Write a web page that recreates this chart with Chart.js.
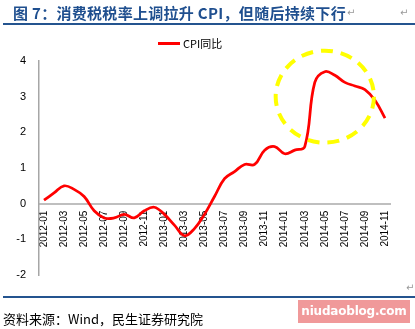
<!DOCTYPE html>
<html>
<head>
<meta charset="utf-8">
<script src="https://cdn.jsdelivr.net/npm/chart.js@4"></script>
<style>
  html, body { margin: 0; padding: 0; background: #fff; }
  #wrap { position: relative; width: 415px; height: 329px; overflow: hidden; font-family: "Noto Sans CJK SC", sans-serif; }
  #chart { position: absolute; left: 0; top: 0; }
  .title { position: absolute; left: 13px; top: 2px; font-size: 15px; font-weight: bold; color: #1f4f8f; white-space: nowrap; letter-spacing: 0.3px; }
  .mark { position: absolute; font-family: "DejaVu Sans"; font-size: 10px; color: #999; }
  .rule { position: absolute; left: 3px; width: 412px; height: 2px; background: #24548f; }
  .legend { position: absolute; left: 158px; top: 35px; font-family: "Liberation Sans", sans-serif; font-size: 11px; white-space: nowrap; }
  .legend span.swatch { display: inline-block; width: 22px; height: 3px; vertical-align: middle; margin-right: 3px; }
  .legend span.txt { vertical-align: middle; font-family: "Noto Sans CJK SC"; }
  .source { position: absolute; left: 3px; top: 309px; font-size: 13px; color: #000; white-space: nowrap; }
  .wm { position: absolute; left: 298px; top: 300px; width: 112px; height: 23px; background: #f0999a; color: #fff; font-family: "DejaVu Sans", sans-serif; font-weight: bold; font-size: 12px; letter-spacing: -0.2px; line-height: 23px; text-align: center; white-space: nowrap; overflow: hidden; }
</style>
</head>
<body>
<div id="wrap">
  <canvas id="chart" width="415" height="329"></canvas>
  <div class="title">图 7：消费税税率上调拉升 CPI，但随后持续下行</div>
  <div class="mark" style="left:347px; top:7px;">↵</div>
  <div class="mark" style="left:400px; top:7px;">↵</div>
  <div class="rule" style="top:23px;"></div>
  <div class="legend" id="legend"></div>
  <div class="mark" style="left:406px; top:282px;">↵</div>
  <div class="rule" style="top:296px;"></div>
  <div class="source">资料来源：Wind，民生证券研究院</div>
  <div class="wm">niudaoblog.com</div>
</div>
<script>
// months 2012-01 .. 2014-11
const months = [
  '2012-01','2012-02','2012-03','2012-04','2012-05','2012-06','2012-07','2012-08','2012-09','2012-10','2012-11','2012-12',
  '2013-01','2013-02','2013-03','2013-04','2013-05','2013-06','2013-07','2013-08','2013-09','2013-10','2013-11','2013-12',
  '2014-01','2014-02','2014-03','2014-04','2014-05','2014-06','2014-07','2014-08','2014-09','2014-10','2014-11'
];
const cpiYoY = [
  0.1, 0.3, 0.5, 0.4, 0.2, -0.2, -0.4, -0.4, -0.3, -0.4, -0.2, -0.1,
  -0.3, -0.6, -0.9, -0.7, -0.3, 0.2, 0.7, 0.9, 1.1, 1.1, 1.5, 1.6,
  1.4, 1.5, 1.6, 3.4, 3.7, 3.6, 3.4, 3.3, 3.2, 2.9, 2.4
];
const yTicks = [-2, -1, 0, 1, 2, 3, 4];
const seriesName = 'CPI同比';

// highlight ring around the post-hike peak (in data units)
const ringCenter = { x: '2014-05', y: 3.0 };
const ringRadius = { x: 4.9, y: 1.29 };

const ringPlugin = {
    id: 'ring',
    afterDatasetsDraw(chart) {
        const xs = chart.scales.x;
        const ys = chart.scales.y;
        const cx = xs.getPixelForValue(months.indexOf(ringCenter.x));
        const cy = ys.getPixelForValue(ringCenter.y);
        const step = xs.getPixelForValue(1) - xs.getPixelForValue(0);
        const rx = ringRadius.x * step;
        const ry = Math.abs(ys.getPixelForValue(0) - ys.getPixelForValue(ringRadius.y));
        const ctx = chart.ctx;
        ctx.save();
        ctx.strokeStyle = '#ffff00';
        ctx.lineWidth = 4;
        ctx.setLineDash([12, 8]);
        ctx.beginPath();
        ctx.ellipse(cx, cy, rx, ry, 0, 0, Math.PI * 2);
        ctx.stroke();
        ctx.restore();
    }
};

const ctx = document.getElementById('chart').getContext('2d');
const chart = new Chart(ctx, {
    type: 'line',
    data: {
        labels: months,
        datasets: [{
            label: seriesName,
            data: cpiYoY,
            borderColor: '#ff0000',
            backgroundColor: '#ff0000',
            borderWidth: 2.75,
            tension: 0.4,
            pointRadius: 0,
            fill: false
        }]
    },
    options: {
        responsive: false,
        animation: false,
        maintainAspectRatio: false,
        layout: {
            padding: { left: 16, right: 25, top: 61, bottom: 54 }
        },
        scales: {
            x: {
                position: { y: 0 },
                offset: true,
                grid: { display: false, drawTicks: false },
                border: { color: '#bfbfbf', width: 2 },
                ticks: {
                    autoSkip: false,
                    minRotation: 90,
                    maxRotation: 90,
                    padding: 7,
                    color: '#000',
                    font: { family: 'Liberation Sans', size: 10 },
                    callback: function (val, i) {
                        return i % 2 === 0 ? this.getLabelForValue(val) : '';
                    }
                }
            },
            y: {
                min: -2,
                max: 4,
                afterFit(scale) { scale.width = 23; },
                afterBuildTicks(scale) { scale.ticks = yTicks.map(v => ({ value: v })); },
                grid: { display: false, drawTicks: false },
                border: { color: '#a6a6a6', width: 1.5 },
                ticks: {
                    padding: 13,
                    color: '#000',
                    font: { family: 'Liberation Sans', size: 11 }
                }
            }
        },
        plugins: {
            legend: { display: false },
            tooltip: { enabled: false }
        }
    },
    plugins: [ringPlugin]
});

// html legend from the dataset
const ds = chart.data.datasets[0];
document.getElementById('legend').innerHTML =
    '<span class="swatch" style="background:' + ds.borderColor + '"></span><span class="txt">' + ds.label + '</span>';
</script>
</body>
</html>
